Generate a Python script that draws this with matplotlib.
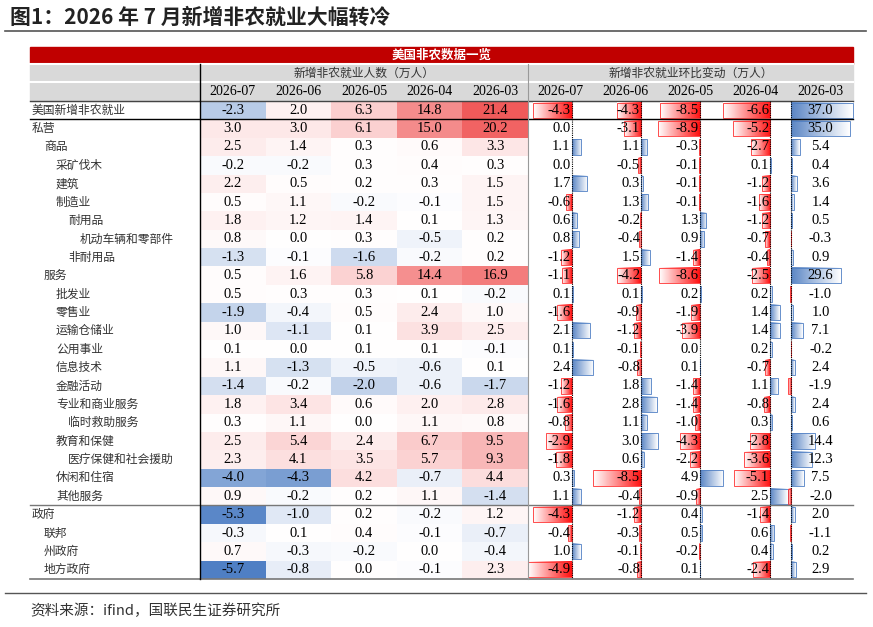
import numpy as np
import matplotlib.pyplot as plt
from matplotlib.colors import LinearSegmentedColormap, TwoSlopeNorm
from matplotlib.patches import Rectangle

CJK = ['Noto Sans CJK SC', 'DejaVu Sans']
NUM = ['Liberation Serif', 'Noto Sans CJK SC']

months = ['2026-07', '2026-06', '2026-05', '2026-04', '2026-03']

# (label, indent level, level values, m/m change)
rows = [
    ('美国新增非农就业', 0, [-2.3, 2.0, 6.3, 14.8, 21.4], [-4.3, -4.3, -8.5, -6.6, 37.0]),
    ('私营', 0, [3.0, 3.0, 6.1, 15.0, 20.2], [0.0, -3.1, -8.9, -5.2, 35.0]),
    ('商品', 1, [2.5, 1.4, 0.3, 0.6, 3.3], [1.1, 1.1, -0.3, -2.7, 5.4]),
    ('采矿伐木', 2, [-0.2, -0.2, 0.3, 0.4, 0.3], [0.0, -0.5, -0.1, 0.1, 0.4]),
    ('建筑', 2, [2.2, 0.5, 0.2, 0.3, 1.5], [1.7, 0.3, -0.1, -1.2, 3.6]),
    ('制造业', 2, [0.5, 1.1, -0.2, -0.1, 1.5], [-0.6, 1.3, -0.1, -1.6, 1.4]),
    ('耐用品', 3, [1.8, 1.2, 1.4, 0.1, 1.3], [0.6, -0.2, 1.3, -1.2, 0.5]),
    ('机动车辆和零部件', 4, [0.8, 0.0, 0.3, -0.5, 0.2], [0.8, -0.4, 0.9, -0.7, -0.3]),
    ('非耐用品', 3, [-1.3, -0.1, -1.6, -0.2, 0.2], [-1.2, 1.5, -1.4, -0.4, 0.9]),
    ('服务', 1, [0.5, 1.6, 5.8, 14.4, 16.9], [-1.1, -4.2, -8.6, -2.5, 29.6]),
    ('批发业', 2, [0.5, 0.3, 0.3, 0.1, -0.2], [0.1, 0.1, 0.2, 0.2, -1.0]),
    ('零售业', 2, [-1.9, -0.4, 0.5, 2.4, 1.0], [-1.6, -0.9, -1.9, 1.4, 1.0]),
    ('运输仓储业', 2, [1.0, -1.1, 0.1, 3.9, 2.5], [2.1, -1.2, -3.9, 1.4, 7.1]),
    ('公用事业', 2, [0.1, 0.0, 0.1, 0.1, -0.1], [0.1, -0.1, 0.0, 0.2, -0.2]),
    ('信息技术', 2, [1.1, -1.3, -0.5, -0.6, 0.1], [2.4, -0.8, 0.1, -0.7, 2.4]),
    ('金融活动', 2, [-1.4, -0.2, -2.0, -0.6, -1.7], [-1.2, 1.8, -1.4, 1.1, -1.9]),
    ('专业和商业服务', 2, [1.8, 3.4, 0.6, 2.0, 2.8], [-1.6, 2.8, -1.4, -0.8, 2.4]),
    ('临时救助服务', 3, [0.3, 1.1, 0.0, 1.1, 0.8], [-0.8, 1.1, -1.0, 0.3, 0.6]),
    ('教育和保健', 2, [2.5, 5.4, 2.4, 6.7, 9.5], [-2.9, 3.0, -4.3, -2.8, 14.4]),
    ('医疗保健和社会援助', 3, [2.3, 4.1, 3.5, 5.7, 9.3], [-1.8, 0.6, -2.2, -3.6, 12.3]),
    ('休闲和住宿', 2, [-4.0, -4.3, 4.2, -0.7, 4.4], [0.3, -8.5, 4.9, -5.1, 7.5]),
    ('其他服务', 2, [0.9, -0.2, 0.2, 1.1, -1.4], [1.1, -0.4, -0.9, 2.5, -2.0]),
    ('政府', 0, [-5.3, -1.0, 0.2, -0.2, 1.2], [-4.3, -1.2, 0.4, -1.4, 2.0]),
    ('联邦', 1, [-0.3, 0.1, 0.4, -0.1, -0.7], [-0.4, -0.3, 0.5, 0.6, -1.1]),
    ('州政府', 1, [0.7, -0.3, -0.2, 0.0, -0.4], [1.0, -0.1, -0.2, 0.4, 0.2]),
    ('地方政府', 1, [-5.7, -0.8, 0.0, -0.1, 2.3], [-4.9, -0.8, 0.1, -2.4, 2.9]),
]
level = np.array([r[2] for r in rows])
change = np.array([r[3] for r in rows])

W, H = 873, 627
fig = plt.figure(figsize=(W / 100, H / 100), dpi=100)
ax = fig.add_axes([0, 0, 1, 1])
ax.axis('off')

# layout in pixels
x0, xlab, xmid, x1 = 30, 200, 528, 853
cw = (xmid - xlab) / 5
cw2 = (x1 - xmid) / 5
y_red, y_h1, y_h2, y_data = 47, 64, 82, 101
rh = (579 - y_data) / len(rows)

# title
ax.text(10, 17, '图1：2026 年 7 月新增非农就业大幅转冷', fontsize=15, fontweight='bold',
        family=CJK, va='center', color='#222222')
ax.plot([5, 866], [31, 31], color='#555555', lw=1.2)

# header
ax.add_patch(Rectangle((x0, y_red), x1 - x0, y_h1 - y_red, color='#c00000'))
ax.text((x0 + x1) / 2, (y_red + y_h1) / 2, '美国非农数据一览', color='white', fontsize=9,
        fontweight='bold', family=CJK, ha='center', va='center')
ax.add_patch(Rectangle((x0, y_h1), x1 - x0, y_data - y_h1, color='#d9d9d9'))
ax.text((xlab + xmid) / 2, (y_h1 + y_h2) / 2, '新增非农就业人数（万人）', fontsize=8.5,
        family=CJK, ha='center', va='center', color='#333333')
ax.text((xmid + x1) / 2, (y_h1 + y_h2) / 2, '新增非农就业环比变动（万人）', fontsize=8.5,
        family=CJK, ha='center', va='center', color='#333333')
for j, m in enumerate(months):
    for xs, w in ((xlab, cw), (xmid, cw2)):
        ax.text(xs + w * (j + 0.5), (y_h2 + y_data) / 2, m, fontsize=10, family=NUM,
                ha='center', va='center')
for yy in (y_h1, y_h2):
    ax.plot([x0, x1], [yy, yy], color='white', lw=1.5)
ax.plot([x0, x1], [y_data, y_data], color='#444444', lw=1)

# heatmap colours for the level columns, data bars for the change columns
cmap = LinearSegmentedColormap.from_list('bwr_x', ['#4f7fc4', '#ffffff', '#f05a5a'])
norm = TwoSlopeNorm(vmin=level.min(), vcenter=0, vmax=level.max())
blue_bar = LinearSegmentedColormap.from_list('bb', ['#5b86c5', '#ffffff'])
red_bar = LinearSegmentedColormap.from_list('rb', ['#ffffff', '#ff1010'])
grad = np.linspace(0, 1, 64).reshape(1, -1)

spans, axes_x = [], []
for j in range(5):
    col = change[:, j]
    span = col.max() - min(col.min(), 0)
    spans.append(span)
    axes_x.append(xmid + cw2 * j + cw2 * (-min(col.min(), 0)) / span)

for i, (name, lv, vals, chg) in enumerate(rows):
    yt = y_data + i * rh
    yc = yt + rh / 2
    ax.text(x0 + 2 + 12 * lv, yc, name, fontsize=8.5, family=CJK, va='center', color='#333333')
    for j in range(5):
        v = vals[j]
        ax.add_patch(Rectangle((xlab + cw * j, yt), cw, rh, color=cmap(norm(v)), lw=0))
        ax.text(xlab + cw * (j + 0.5), yc, f'{v:.1f}', fontsize=10.5, family=NUM,
                ha='center', va='center')
        c = chg[j]
        bw = cw2 * abs(c) / spans[j]
        if bw > 0.3:
            b0, b1 = yt + 1.5, yt + rh - 1.5
            if c < 0:
                ext = (axes_x[j] - bw, axes_x[j], b1, b0)
                ax.imshow(grad, cmap=red_bar, extent=ext, aspect='auto', zorder=2)
                ax.add_patch(Rectangle((axes_x[j] - bw, b0), bw, b1 - b0, fill=False,
                                       ec='#ff3030', lw=0.6, zorder=3))
            else:
                ext = (axes_x[j], axes_x[j] + bw, b1, b0)
                ax.imshow(grad, cmap=blue_bar, extent=ext, aspect='auto', zorder=2)
                ax.add_patch(Rectangle((axes_x[j], b0), bw, b1 - b0, fill=False,
                                       ec='#4f7fc4', lw=0.6, zorder=3))
        if axes_x[j] - (xmid + cw2 * j) > cw2 * 0.3:
            ax.text(axes_x[j] - 1, yc, f'{c:.1f}', fontsize=10.5, family=NUM,
                    ha='right', va='center', zorder=4)
        else:
            ax.text(xmid + cw2 * (j + 0.5), yc, f'{c:.1f}', fontsize=10.5, family=NUM,
                    ha='center', va='center', zorder=4)

y_end = y_data + len(rows) * rh
for j in range(5):
    ax.plot([axes_x[j]] * 2, [y_data, y_end], color='black', lw=0.8, ls=(0, (1, 1)), zorder=3)

ax.plot([x0, x1], [y_data + rh, y_data + rh], color='black', lw=1, zorder=5)
ax.plot([x0, x1], [y_data + 22 * rh] * 2, color='#777777', lw=1, zorder=5)
ax.plot([x0, x1], [y_end, y_end], color='#777777', lw=1.2, zorder=5)
ax.plot([xlab, xlab], [y_h1, y_end], color='black', lw=1, zorder=5)
ax.plot([xmid, xmid], [y_h1, y_end], color='#999999', lw=0.8, zorder=5)

ax.plot([5, 866], [593, 593], color='#555555', lw=1)
ax.text(30, 611, '资料来源：ifind，国联民生证券研究所', fontsize=10.5, family=CJK,
        va='center', color='#333333')

ax.set_xlim(0, W)
ax.set_ylim(H, 0)
fig.savefig('out.png', dpi=100)
